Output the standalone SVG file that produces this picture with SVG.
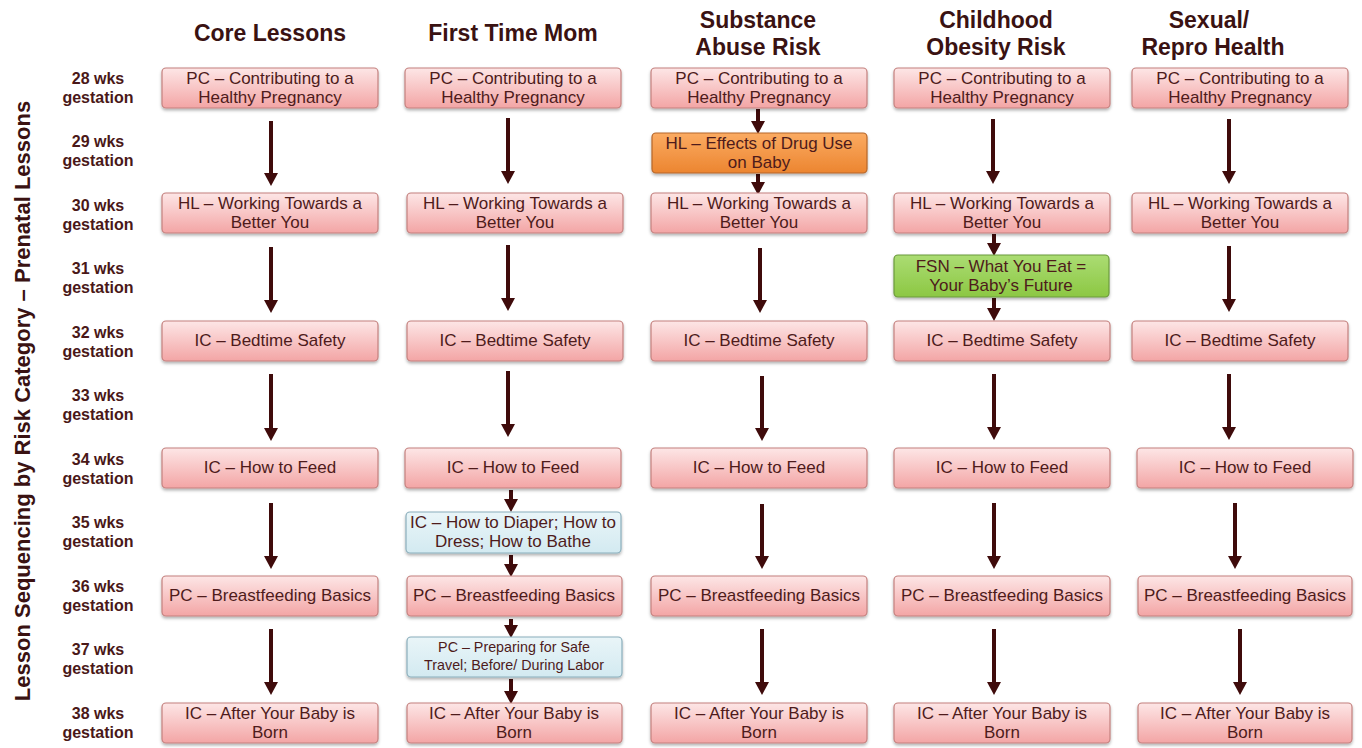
<svg xmlns="http://www.w3.org/2000/svg" width="1362" height="748" viewBox="0 0 1362 748">
<style>
.hdr{font-family:"Liberation Sans",Arial,sans-serif;font-weight:bold;font-size:23px;fill:#3a1212;text-anchor:middle}
.wk{font-family:"Liberation Sans",Arial,sans-serif;font-weight:bold;font-size:16px;fill:#4a1818;text-anchor:middle}
.side{font-family:"Liberation Sans",Arial,sans-serif;font-weight:bold;font-size:22px;fill:#3a1212;text-anchor:middle}
.bt{font-family:"Liberation Sans",Arial,sans-serif;font-size:17px;fill:#4e1b1b;text-anchor:middle}
.bts{font-family:"Liberation Sans",Arial,sans-serif;font-size:14.3px;fill:#4e1b1b;text-anchor:middle}
.pink{fill:url(#gPink);stroke:#c4807e;stroke-width:1.2;filter:url(#sh)}
.orange{fill:url(#gOrange);stroke:#b5662a;stroke-width:1.2;filter:url(#sh)}
.green{fill:url(#gGreen);stroke:#6b9a3c;stroke-width:1.2;filter:url(#sh)}
.blue{fill:url(#gBlue);stroke:#8aaebb;stroke-width:1.2;filter:url(#sh)}
.arr{stroke:#3f0b0b;stroke-width:4;fill:none;marker-end:url(#ah)}
</style>
<defs>
<linearGradient id="gPink" x1="0" y1="0" x2="0" y2="1"><stop offset="0" stop-color="#fde6e6"/><stop offset="1" stop-color="#f3a5a5"/></linearGradient>
<linearGradient id="gOrange" x1="0" y1="0" x2="0" y2="1"><stop offset="0" stop-color="#fbab62"/><stop offset="1" stop-color="#ec8530"/></linearGradient>
<linearGradient id="gGreen" x1="0" y1="0" x2="0" y2="1"><stop offset="0" stop-color="#abdc73"/><stop offset="1" stop-color="#8cc743"/></linearGradient>
<linearGradient id="gBlue" x1="0" y1="0" x2="0" y2="1"><stop offset="0" stop-color="#e9f5f8"/><stop offset="1" stop-color="#d3eaf1"/></linearGradient>
<filter id="sh" x="-5%" y="-10%" width="110%" height="140%"><feDropShadow dx="0" dy="2" stdDeviation="1.5" flood-color="#000" flood-opacity="0.3"/></filter>
<marker id="ah" markerUnits="userSpaceOnUse" markerWidth="13" markerHeight="14" viewBox="0 0 13 14" refX="1" refY="7" orient="auto"><path d="M0,0 L13,7 L0,14 z" fill="#3f0b0b"/></marker>
</defs>
<rect width="1362" height="748" fill="#ffffff"/>

<g id="headers">
<text class="hdr" x="270" y="41">Core Lessons</text>
<text class="hdr" x="513" y="41">First Time Mom</text>
<text class="hdr" x="758" y="28">Substance</text>
<text class="hdr" x="758" y="55">Abuse Risk</text>
<text class="hdr" x="996" y="28">Childhood</text>
<text class="hdr" x="996" y="55">Obesity Risk</text>
<text class="hdr" x="1209" y="28">Sexual/</text>
<text class="hdr" x="1213" y="55">Repro Health</text>
</g>

<g id="side-title">
<text class="side" transform="translate(30,401) rotate(-90)">Lesson Sequencing by Risk Category – Prenatal Lessons</text>
</g>

<g id="week-labels">
<text class="wk" x="98" y="84">28 wks</text><text class="wk" x="98" y="103">gestation</text>
<text class="wk" x="98" y="147">29 wks</text><text class="wk" x="98" y="166">gestation</text>
<text class="wk" x="98" y="211">30 wks</text><text class="wk" x="98" y="230">gestation</text>
<text class="wk" x="98" y="274">31 wks</text><text class="wk" x="98" y="293">gestation</text>
<text class="wk" x="98" y="338">32 wks</text><text class="wk" x="98" y="357">gestation</text>
<text class="wk" x="98" y="401">33 wks</text><text class="wk" x="98" y="420">gestation</text>
<text class="wk" x="98" y="465">34 wks</text><text class="wk" x="98" y="484">gestation</text>
<text class="wk" x="98" y="528">35 wks</text><text class="wk" x="98" y="547">gestation</text>
<text class="wk" x="98" y="592">36 wks</text><text class="wk" x="98" y="611">gestation</text>
<text class="wk" x="98" y="655">37 wks</text><text class="wk" x="98" y="674">gestation</text>
<text class="wk" x="98" y="719">38 wks</text><text class="wk" x="98" y="738">gestation</text>
</g>

<g id="connectors">
<line class="arr" x1="271" y1="121" x2="271" y2="174"/>
<line class="arr" x1="271" y1="247" x2="271" y2="301"/>
<line class="arr" x1="271" y1="374" x2="271" y2="429"/>
<line class="arr" x1="271" y1="503" x2="271" y2="557"/>
<line class="arr" x1="271" y1="629" x2="271" y2="683"/>
<line class="arr" x1="508" y1="118" x2="508" y2="172"/>
<line class="arr" x1="508" y1="245" x2="508" y2="299"/>
<line class="arr" x1="508" y1="371" x2="508" y2="425"/>
<line class="arr" x1="511" y1="490" x2="511" y2="500"/>
<line class="arr" x1="511" y1="555" x2="511" y2="565"/>
<line class="arr" x1="511" y1="619" x2="511" y2="626"/>
<line class="arr" x1="511" y1="679" x2="511" y2="692"/>
<line class="arr" x1="758" y1="109" x2="758" y2="122"/>
<line class="arr" x1="758" y1="174" x2="758" y2="183"/>
<line class="arr" x1="760" y1="248" x2="760" y2="301"/>
<line class="arr" x1="762" y1="376" x2="762" y2="429"/>
<line class="arr" x1="762" y1="504" x2="762" y2="557"/>
<line class="arr" x1="762" y1="629" x2="762" y2="683"/>
<line class="arr" x1="993" y1="119" x2="993" y2="172"/>
<line class="arr" x1="994" y1="234" x2="994" y2="244"/>
<line class="arr" x1="994" y1="298" x2="994" y2="309"/>
<line class="arr" x1="994" y1="374" x2="994" y2="428"/>
<line class="arr" x1="994" y1="503" x2="994" y2="557"/>
<line class="arr" x1="994" y1="629" x2="994" y2="683"/>
<line class="arr" x1="1229" y1="119" x2="1229" y2="172"/>
<line class="arr" x1="1229" y1="246" x2="1229" y2="300"/>
<line class="arr" x1="1229" y1="374" x2="1229" y2="428"/>
<line class="arr" x1="1235" y1="503" x2="1235" y2="557"/>
<line class="arr" x1="1240" y1="629" x2="1240" y2="683"/>
</g>

<g id="core-28"><rect class="pink" x="162" y="68" width="216" height="40" rx="4"/><text class="bt" x="270" y="84">PC – Contributing to a</text><text class="bt" x="270" y="103">Healthy Pregnancy</text></g>
<g id="core-30"><rect class="pink" x="162" y="193" width="216" height="40" rx="4"/><text class="bt" x="270" y="209">HL – Working Towards a</text><text class="bt" x="270" y="228">Better You</text></g>
<g id="core-32"><rect class="pink" x="162" y="321" width="216" height="40" rx="4"/><text class="bt" x="270" y="346">IC – Bedtime Safety</text></g>
<g id="core-34"><rect class="pink" x="162" y="448" width="216" height="40" rx="4"/><text class="bt" x="270" y="473">IC – How to Feed</text></g>
<g id="core-36"><rect class="pink" x="162" y="576" width="216" height="40" rx="4"/><text class="bt" x="270" y="601">PC – Breastfeeding Basics</text></g>
<g id="core-38"><rect class="pink" x="162" y="703" width="216" height="40" rx="4"/><text class="bt" x="270" y="719">IC – After Your Baby is</text><text class="bt" x="270" y="738">Born</text></g>

<g id="ftm-28"><rect class="pink" x="405" y="68" width="216" height="40" rx="4"/><text class="bt" x="513" y="84">PC – Contributing to a</text><text class="bt" x="513" y="103">Healthy Pregnancy</text></g>
<g id="ftm-30"><rect class="pink" x="407" y="193" width="216" height="40" rx="4"/><text class="bt" x="515" y="209">HL – Working Towards a</text><text class="bt" x="515" y="228">Better You</text></g>
<g id="ftm-32"><rect class="pink" x="407" y="321" width="216" height="40" rx="4"/><text class="bt" x="515" y="346">IC – Bedtime Safety</text></g>
<g id="ftm-34"><rect class="pink" x="405" y="448" width="216" height="40" rx="4"/><text class="bt" x="513" y="473">IC – How to Feed</text></g>
<g id="ftm-35"><rect class="blue" x="406" y="512" width="215" height="41" rx="4"/><text class="bt" x="513" y="528">IC – How to Diaper; How to</text><text class="bt" x="513" y="547">Dress; How to Bathe</text></g>
<g id="ftm-36"><rect class="pink" x="407" y="576" width="215" height="40" rx="4"/><text class="bt" x="514" y="601">PC – Breastfeeding Basics</text></g>
<g id="ftm-37"><rect class="blue" x="407" y="637" width="215" height="40" rx="4"/><text class="bts" x="514" y="652">PC  – Preparing for Safe</text><text class="bts" x="514" y="670">Travel; Before/ During Labor</text></g>
<g id="ftm-38"><rect class="pink" x="407" y="703" width="215" height="40" rx="4"/><text class="bt" x="514" y="719">IC – After Your Baby is</text><text class="bt" x="514" y="738">Born</text></g>

<g id="sub-28"><rect class="pink" x="651" y="68" width="216" height="40" rx="4"/><text class="bt" x="759" y="84">PC – Contributing to a</text><text class="bt" x="759" y="103">Healthy Pregnancy</text></g>
<g id="sub-29"><rect class="orange" x="652" y="133" width="215" height="40" rx="4"/><text class="bt" x="759" y="149">HL – Effects of Drug Use</text><text class="bt" x="759" y="168">on Baby</text></g>
<g id="sub-30"><rect class="pink" x="651" y="193" width="216" height="40" rx="4"/><text class="bt" x="759" y="209">HL – Working Towards a</text><text class="bt" x="759" y="228">Better You</text></g>
<g id="sub-32"><rect class="pink" x="651" y="321" width="216" height="40" rx="4"/><text class="bt" x="759" y="346">IC – Bedtime Safety</text></g>
<g id="sub-34"><rect class="pink" x="651" y="448" width="216" height="40" rx="4"/><text class="bt" x="759" y="473">IC – How to Feed</text></g>
<g id="sub-36"><rect class="pink" x="651" y="576" width="216" height="40" rx="4"/><text class="bt" x="759" y="601">PC – Breastfeeding Basics</text></g>
<g id="sub-38"><rect class="pink" x="651" y="703" width="216" height="40" rx="4"/><text class="bt" x="759" y="719">IC – After Your Baby is</text><text class="bt" x="759" y="738">Born</text></g>

<g id="obe-28"><rect class="pink" x="894" y="68" width="216" height="40" rx="4"/><text class="bt" x="1002" y="84">PC – Contributing to a</text><text class="bt" x="1002" y="103">Healthy Pregnancy</text></g>
<g id="obe-30"><rect class="pink" x="894" y="193" width="216" height="40" rx="4"/><text class="bt" x="1002" y="209">HL – Working Towards a</text><text class="bt" x="1002" y="228">Better You</text></g>
<g id="obe-31"><rect class="green" x="894" y="255" width="215" height="42" rx="4"/><text class="bt" x="1001" y="272">FSN – What You Eat =</text><text class="bt" x="1001" y="291">Your Baby’s Future</text></g>
<g id="obe-32"><rect class="pink" x="894" y="321" width="216" height="40" rx="4"/><text class="bt" x="1002" y="346">IC – Bedtime Safety</text></g>
<g id="obe-34"><rect class="pink" x="894" y="448" width="216" height="40" rx="4"/><text class="bt" x="1002" y="473">IC – How to Feed</text></g>
<g id="obe-36"><rect class="pink" x="894" y="576" width="216" height="40" rx="4"/><text class="bt" x="1002" y="601">PC – Breastfeeding Basics</text></g>
<g id="obe-38"><rect class="pink" x="894" y="703" width="216" height="40" rx="4"/><text class="bt" x="1002" y="719">IC – After Your Baby is</text><text class="bt" x="1002" y="738">Born</text></g>

<g id="sex-28"><rect class="pink" x="1132" y="68" width="216" height="40" rx="4"/><text class="bt" x="1240" y="84">PC – Contributing to a</text><text class="bt" x="1240" y="103">Healthy Pregnancy</text></g>
<g id="sex-30"><rect class="pink" x="1132" y="193" width="216" height="40" rx="4"/><text class="bt" x="1240" y="209">HL – Working Towards a</text><text class="bt" x="1240" y="228">Better You</text></g>
<g id="sex-32"><rect class="pink" x="1132" y="321" width="216" height="40" rx="4"/><text class="bt" x="1240" y="346">IC – Bedtime Safety</text></g>
<g id="sex-34"><rect class="pink" x="1137" y="448" width="216" height="40" rx="4"/><text class="bt" x="1245" y="473">IC – How to Feed</text></g>
<g id="sex-36"><rect class="pink" x="1138" y="576" width="214" height="40" rx="4"/><text class="bt" x="1245" y="601">PC – Breastfeeding Basics</text></g>
<g id="sex-38"><rect class="pink" x="1138" y="703" width="214" height="40" rx="4"/><text class="bt" x="1245" y="719">IC – After Your Baby is</text><text class="bt" x="1245" y="738">Born</text></g>
</svg>
